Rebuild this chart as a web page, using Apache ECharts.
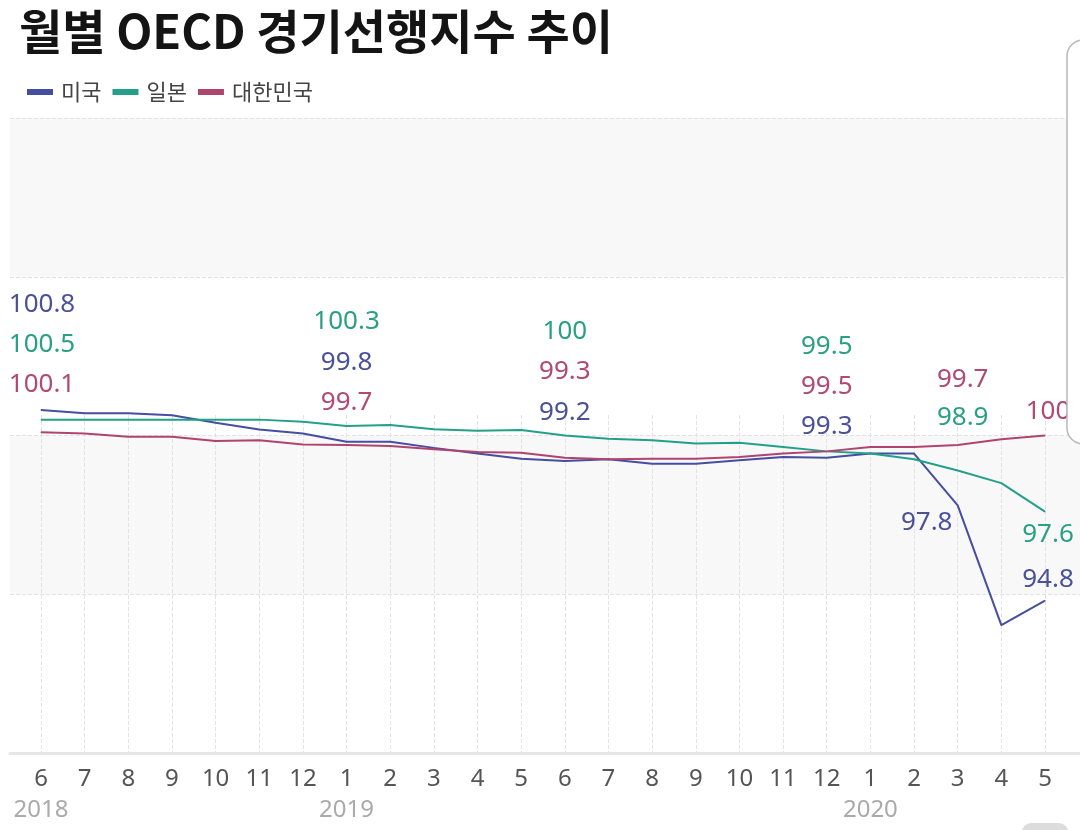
<!DOCTYPE html>
<html>
<head>
<meta charset="utf-8">
<script src="https://cdn.jsdelivr.net/npm/echarts@6/dist/echarts.min.js"></script>
<style>
  html, body { margin: 0; padding: 0; background: #fff; }
  #chart { width: 1080px; height: 830px; }
</style>
</head>
<body>
<div id="chart"></div>
<script>
  // x축: 2018년 6월 ~ 2020년 5월
  const months = ['6','7','8','9','10','11','12','1','2','3','4','5',
                  '6','7','8','9','10','11','12','1','2','3','4','5'];
  const years = ['2018','','','','','','','2019','','','','',
                 '','','','','','','','2020','','','',''];

  const usa   = [100.8, 100.7, 100.7, 100.64, 100.4, 100.19, 100.06, 99.8, 99.8, 99.61, 99.43, 99.27,
                 99.2, 99.25, 99.11, 99.11, 99.22, 99.32, 99.3, 99.43, 99.43, 97.8, 94.03, 94.8];
  const japan = [100.5, 100.5, 100.5, 100.5, 100.5, 100.5, 100.43, 100.3, 100.33, 100.2, 100.15, 100.17,
                 100, 99.9, 99.85, 99.75, 99.77, 99.64, 99.5, 99.43, 99.25, 98.9, 98.5, 97.6];
  const korea = [100.1, 100.06, 99.96, 99.96, 99.83, 99.85, 99.72, 99.7, 99.67, 99.57, 99.48, 99.46,
                 99.3, 99.25, 99.27, 99.27, 99.32, 99.43, 99.5, 99.64, 99.64, 99.7, 99.88, 100];

  // 값 라벨 위치 (index -> [dx, dy])
  const usaLabels   = {0: [1, -106], 7: [0, -79], 12: [0, -48], 18: [0, -31], 21: [-31, 17], 23: [3, -21]};
  const japanLabels = {0: [1, -75], 7: [0, -104], 12: [0, -104], 18: [0, -105], 21: [5, -53], 23: [3, 23]};
  const koreaLabels = {0: [1, -48], 7: [0, -42], 12: [0, -86], 18: [0, -65], 21: [5, -65], 23: [3, -24]};

  const numFont = "'Noto Sans', sans-serif";
  const krFont = "'Noto Sans CJK KR', sans-serif";

  function makeSeries(name, values, labels, lineColor, labelColor) {
    return {
      name: name,
      type: 'line',
      xAxisIndex: 1,
      yAxisIndex: 1,
      symbol: 'circle',
      symbolSize: 1,
      showSymbol: true,
      itemStyle: { color: lineColor },
      lineStyle: { color: lineColor, width: 2 },
      label: {
        show: false,
        position: 'inside',
        color: labelColor,
        fontSize: 26,
        fontFamily: numFont,
        formatter: function (p) { return String(+p.value.toFixed(1)); }
      },
      emphasis: { disabled: true },
      data: values.map(function (v, i) {
        return labels[i] ? { value: v, label: { show: true, offset: labels[i] } } : v;
      })
    };
  }

  let chart = echarts.init(document.getElementById('chart'));
  let option = {
    animation: false,
    backgroundColor: '#fff',
    title: {
      text: '월별 OECD 경기선행지수 추이',
      left: 14,
      top: 3,
      textStyle: { fontSize: 47, fontWeight: 'bold', color: '#141414', fontFamily: krFont }
    },
    legend: {
      left: 22,
      top: 76,
      icon: 'rect',
      itemWidth: 26,
      itemHeight: 6,
      itemGap: 11,
      textStyle: { fontSize: 22, color: '#444', fontFamily: krFont, padding: [0, 0, 0, 3] },
      data: ['미국', '일본', '대한민국']
    },
    grid: [
      { left: 10, right: 0, top: 118, height: 635 },    // 배경 격자
      { left: 41, width: 1004, top: 118, height: 635 }, // 선
      { left: 41, width: 1004, top: 415, height: 338 }  // 세로 점선 + 월 라벨
    ],
    xAxis: [
      {
        gridIndex: 0, type: 'value', min: 0, max: 1,
        axisLine: { show: true, lineStyle: { color: '#e6e6e6', width: 3 } },
        axisTick: { show: false }, axisLabel: { show: false }, splitLine: { show: false }
      },
      { gridIndex: 1, type: 'category', data: months, boundaryGap: false, show: false },
      {
        gridIndex: 2, type: 'category', data: months, boundaryGap: false,
        axisLine: { show: false },
        axisTick: { show: false },
        splitLine: { show: true, interval: 0, lineStyle: { type: 'dashed', color: '#e2e2e2', width: 1 } },
        axisLabel: {
          interval: 0,
          margin: 11,
          formatter: function (v, i) {
            return years[i] ? '{m|' + v + '}\n{y|' + years[i] + '}' : '{m|' + v + '}';
          },
          rich: {
            m: { fontSize: 24, color: '#555', fontFamily: numFont, lineHeight: 31 },
            y: { fontSize: 24, color: '#aaa', fontFamily: numFont, lineHeight: 31 }
          }
        }
      }
    ],
    yAxis: [
      {
        gridIndex: 0, type: 'value', min: 90, max: 110, interval: 5,
        axisLine: { show: false }, axisTick: { show: false }, axisLabel: { show: false },
        splitLine: { show: true, lineStyle: { type: 'dashed', color: '#e2e2e2', width: 1 } },
        splitArea: { show: true, areaStyle: { color: ['#ffffff', '#f8f8f8'] } }
      },
      { gridIndex: 1, type: 'value', min: 90, max: 110, show: false },
      { gridIndex: 2, type: 'value', show: false }
    ],
    series: [
      makeSeries('미국', usa, usaLabels, '#454ea0', '#4a5199'),
      makeSeries('일본', japan, japanLabels, '#23a088', '#2a9f86'),
      makeSeries('대한민국', korea, koreaLabels, '#b1446f', '#b04a75')
    ],
    graphic: [
      {
        type: 'rect', z: 100,
        shape: { x: 1067, y: 40, width: 40, height: 404, r: 16 },
        style: { fill: '#fff', stroke: '#b8b8b8', lineWidth: 1.5 }
      },
      {
        type: 'rect', z: 100,
        shape: { x: 1022, y: 823, width: 46, height: 20, r: 9 },
        style: { fill: '#dcdcdc' }
      }
    ]
  };
  chart.setOption(option);
</script>
</body>
</html>
